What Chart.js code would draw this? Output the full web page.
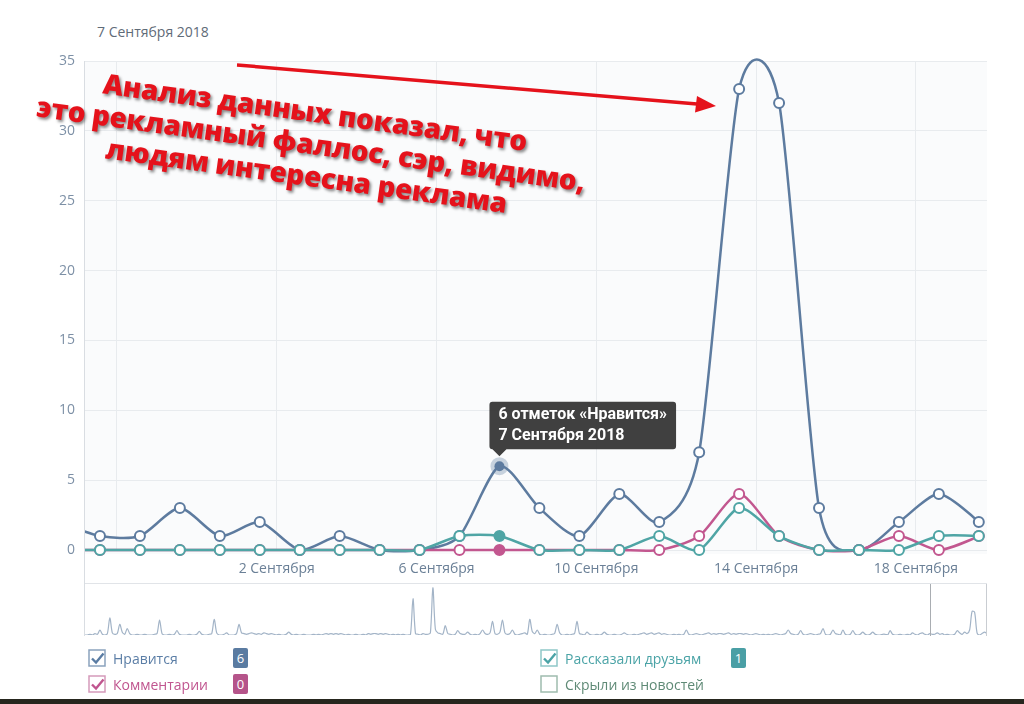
<!DOCTYPE html>
<html>
<head>
<meta charset="utf-8">
<script src="https://cdn.jsdelivr.net/npm/chart.js@4.4.1/dist/chart.umd.min.js"></script>
<style>
  body { margin: 0; width: 1024px; height: 704px; background: #fff; position: relative; overflow: hidden; font-family: "Open Sans", sans-serif; }
  #head { position: absolute; left: 97px; top: 22px; font-size: 14px; color: #5f6b78; }
  #main { position: absolute; left: 0; top: 0; }
  #yline { position: absolute; left: 84px; top: 61px; width: 1px; height: 575px; background: #d9dde2; }
  #nav { position: absolute; left: 85px; top: 583px; width: 902px; height: 53px; border-top: 1px solid #e1e4e8; }
  #navChart { position: absolute; left: 0; top: 1px; }
  #navWin { position: absolute; left: 845px; top: 0; width: 55px; height: 52px; border-left: 1px solid #a9adb2; border-right: 1px solid #c9cdd2; }
  #note { position: absolute; left: 1px; top: 95px; width: 620px; text-align: center; font-size: 28px; font-weight: 800; line-height: 32px; color: #e5121b; transform: rotate(7.8deg); text-shadow: 2px 2px 3px rgba(0,0,0,0.45); letter-spacing: -0.3px; }
  #arrow { position: absolute; left: 0; top: 0; }
  .lg { position: absolute; font-size: 14px; line-height: 19px; }
  .lg svg { position: absolute; left: 0; top: 0; }
  .lg span.t { position: absolute; left: 25px; top: 0; white-space: nowrap; }
  .badge { position: absolute; width: 15px; height: 20px; line-height: 20px; text-align: center; color: #fff; border-radius: 2px; font-size: 13px; }
  #foot { position: absolute; left: 0; top: 699px; width: 1024px; height: 5px; background: #26261e; }
</style>
</head>
<body>
<div id="head"></div>
<canvas id="main" width="1024" height="590"></canvas>
<div id="yline"></div>
<div id="nav"><canvas id="navChart" width="902" height="50"></canvas><div id="navWin"></div></div>

<svg id="arrow" width="1024" height="704">
  <line x1="237" y1="65" x2="697" y2="104" stroke="#e5121b" stroke-width="3.5" />
  <polygon points="716,106 695,112.5 697,96" fill="#e5121b" />
</svg>
<div id="note">Анализ данных показал, что<br>это рекламный фаллос, сэр, видимо,<br>людям интересна реклама</div>

<div class="lg" style="left:88px;top:649px;">
  <svg width="19" height="19"><rect x="1" y="1" width="16" height="16" fill="#fff" stroke="#8aa2bd" stroke-width="1.5"/><path d="M4 9.5 L8 13.5 L15.5 4.5" stroke="#5a7ca3" stroke-width="2.4" fill="none"/></svg>
  <span class="t" style="color:#5b7ea6">Нравится</span>
</div>
<div class="badge" style="left:233px;top:648px;background:#5a7ba1">6</div>
<div class="lg" style="left:88px;top:675px;">
  <svg width="19" height="19"><rect x="1" y="1" width="16" height="16" fill="#fff" stroke="#d59abb" stroke-width="1.5"/><path d="M4 9.5 L8 13.5 L15.5 4.5" stroke="#c0558f" stroke-width="2.4" fill="none"/></svg>
  <span class="t" style="color:#c0558f">Комментарии</span>
</div>
<div class="badge" style="left:233px;top:674px;background:#b5548a">0</div>
<div class="lg" style="left:540px;top:649px;">
  <svg width="19" height="19"><rect x="1" y="1" width="16" height="16" fill="#fff" stroke="#8ec7c8" stroke-width="1.5"/><path d="M4 9.5 L8 13.5 L15.5 4.5" stroke="#4aa3a6" stroke-width="2.4" fill="none"/></svg>
  <span class="t" style="color:#4aa3a6">Рассказали друзьям</span>
</div>
<div class="badge" style="left:731px;top:648px;background:#4a9fa5">1</div>
<div class="lg" style="left:540px;top:675px;">
  <svg width="19" height="19"><rect x="1" y="1" width="16" height="16" fill="#fff" stroke="#9fbcae" stroke-width="1.5"/></svg>
  <span class="t" style="color:#5f8a76">Скрыли из новостей</span>
</div>
<div id="foot"></div>

<script>
// данные графика
const dates = [
  '2018-08-27', '2018-08-28', '2018-08-29', '2018-08-30', '2018-08-31', '2018-09-01',
  '2018-09-02', '2018-09-03', '2018-09-04', '2018-09-05', '2018-09-06', '2018-09-07',
  '2018-09-08', '2018-09-09', '2018-09-10', '2018-09-11', '2018-09-12', '2018-09-13',
  '2018-09-14', '2018-09-15', '2018-09-16', '2018-09-17', '2018-09-18', '2018-09-19'
];
const likes    = [2, 1, 1, 3, 1, 2, 0, 1, 0, 0, 1, 6, 3, 1, 4, 2, 7, 33, 32, 3, 0, 2, 4, 2];
const comments = [0, 0, 0, 0, 0, 0, 0, 0, 0, 0, 0, 0, 0, 0, 0, 0, 1, 4, 1, 0, 0, 1, 0, 1];
const shares   = [0, 0, 0, 0, 0, 0, 0, 0, 0, 0, 1, 1, 0, 0, 0, 1, 0, 3, 1, 0, 0, 0, 1, 1];

const tickDates  = ['2018-08-29', '2018-09-02', '2018-09-06', '2018-09-10', '2018-09-14', '2018-09-18'];
const tickLabels = ['', '2 Сентября', '6 Сентября', '10 Сентября', '14 Сентября', '18 Сентября'];

const selectedDate = '2018-09-07';

// лайки за год до окна (навигатор внизу), по дням
const likesHistory = [
  0,0,1,0,2,1,7,1,0,2, 24,3,1,2,15,4,1,9,2,0,
  0,1,0,0,1,0,0,0,1,2, 21,2,0,0,1,0,1,6,1,0,
  0,0,1,0,0,1,5,1,0,0, 1,2,22,3,0,0,1,3,0,0,
  0,2,15,3,2,1,2,3,2,1, 2,1,3,2,1,2,1,0,1,0,
  0,1,4,1,0,1,0,0,1,0, 0,0,1,0,1,0,1,2,1,2,
  1,2,1,2,1,0,1,0,0,1, 0,0,1,0,2,1,2,2,1,2,
  1,2,1,0,1,0,1,0,1,0, 0,1,51,2,1,0,2,1,1,3,
  66,8,3,2,1,13,2,1,0,1, 6,2,1,1,4,1,0,1,0,2,
  7,2,1,3,19,2,1,4,21,3, 1,2,7,1,0,1,2,3,1,22,
  5,2,7,1,0,1,0,0,1,2, 15,3,0,0,1,0,1,2,19,2,
  1,0,4,1,0,0,1,0,1,4, 1,0,0,1,0,0,1,3,1,0,
  0,1,0,1,2,3,1,2,3,1, 2,3,1,2,1,0,0,1,0,1,
  0,1,7,1,0,1,2,1,0,1, 2,3,1,2,1,2,2,1,2,3,
  1,2,1,2,2,1,2,1,0,1, 2,1,0,1,0,1,0,1,2,1,
  0,1,2,7,2,1,0,1,6,1, 0,1,2,1,0,1,2,9,1,0,
  1,7,2,1,0,7,1,0,1,6, 1,0,1,4,1,0,1,4,1,0,
  0,1,1,0,6,1,0,0,1,0, 0,1,0,3,1,0,2,3,1,0
];

const BLUE = '#5d7b9f';
const PINK = '#c2578f';
const TEAL = '#4fa5a5';

const monthsGen = ['Января', 'Февраля', 'Марта', 'Апреля', 'Мая', 'Июня', 'Июля',
  'Августа', 'Сентября', 'Октября', 'Ноября', 'Декабря'];

// точки выгружены около 13:48 каждого дня
const sampleTime = 13.8 / 24;

function dayNum(s) {
  const [y, m, d] = s.split('-').map(Number);
  return Date.UTC(y, m - 1, d) / 86400000;
}

function fullDate(s) {
  const [y, m, d] = s.split('-').map(Number);
  return d + ' ' + monthsGen[m - 1] + ' ' + y;
}

function toPoints(values) {
  return values.map((v, i) => ({ x: dayNum(dates[i]) + sampleTime, y: v }));
}

document.getElementById('head').textContent = fullDate(selectedDate);

Chart.defaults.font.family = '"Open Sans", sans-serif';

const plotBg = {
  id: 'plotBg',
  beforeDraw(chart) {
    const a = chart.chartArea;
    const ctx = chart.ctx;
    ctx.save();
    ctx.fillStyle = '#fafbfc';
    ctx.fillRect(a.left, a.top, a.right - a.left, a.bottom - a.top + 4);
    ctx.restore();
  }
};

// сглаживание как у сплайна Highcharts (контрольные точки по x)
const splineSmooth = {
  id: 'splineSmooth',
  beforeDatasetDraw(chart, args) {
    const line = args.meta.dataset;
    const pts = args.meta.data;
    if (!line) return;
    line.updateControlPoints(chart.chartArea);
    const s = 3;
    for (let i = 0; i < pts.length; i++) {
      const p = pts[i], prev = pts[i - 1], next = pts[i + 1];
      if (!prev || !next) {
        p.cp1x = p.x; p.cp1y = p.y; p.cp2x = p.x; p.cp2y = p.y;
        continue;
      }
      const lx = (s * p.x + prev.x) / (s + 1);
      let ly = (s * p.y + prev.y) / (s + 1);
      const rx = (s * p.x + next.x) / (s + 1);
      let ry = (s * p.y + next.y) / (s + 1);
      const corr = ((ry - ly) * (rx - p.x)) / (rx - lx) + p.y - ry;
      ly += corr;
      ry += corr;
      p.cp1x = lx; p.cp1y = ly; p.cp2x = rx; p.cp2y = ry;
    }
  }
};

function lineSet(label, values, color, order, halo) {
  return {
    label: label,
    data: toPoints(values),
    borderColor: color,
    borderWidth: 2.5,
    tension: 0.4,
    capBezierPoints: false,
    pointRadius: 5,
    pointBorderWidth: 2,
    pointBackgroundColor: '#fff',
    pointBorderColor: color,
    pointHoverRadius: 5,
    pointHoverBackgroundColor: color,
    pointHoverBorderColor: halo || color,
    pointHoverBorderWidth: halo ? 8 : 2,
    order: order,
    clip: { left: 0, top: 8, right: 8, bottom: 8 }
  };
}

const firstDay = dayNum(dates[1]);

const chart = new Chart(document.getElementById('main'), {
  type: 'line',
  data: {
    datasets: [
      lineSet('Нравится', likes, BLUE, 2, 'rgba(93,123,159,0.32)'),
      lineSet('Комментарии', comments, PINK, 1),
      lineSet('Рассказали друзьям', shares, TEAL, 0)
    ]
  },
  options: {
    responsive: false,
    animation: false,
    events: [],
    layout: { padding: { top: 61, right: 37, left: 0, bottom: 0 } },
    interaction: { mode: 'index', intersect: false },
    plugins: {
      legend: { display: false },
      tooltip: {
        filter: item => item.datasetIndex === 0,
        backgroundColor: 'rgba(52,52,52,0.94)',
        titleColor: '#fff',
        bodyColor: '#fff',
        titleFont: { family: 'Roboto', size: 16, weight: 'bold' },
        bodyFont: { family: 'Roboto', size: 16, weight: 'bold' },
        titleMarginBottom: 1,
        padding: { left: 9, right: 9, top: 4, bottom: 4 },
        cornerRadius: 3,
        caretSize: 7,
        caretPadding: 10,
        displayColors: false,
        xAlign: 'left',
        yAlign: 'bottom',
        callbacks: {
          title: items => items[0].raw.y + ' отметок «Нравится»',
          label: item => fullDate(dates[item.dataIndex])
        }
      }
    },
    scales: {
      x: {
        type: 'linear',
        min: firstDay + 0.2,
        max: firstDay + 22.78,
        afterBuildTicks: scale => { scale.ticks = tickDates.map(d => ({ value: dayNum(d) })); },
        afterFit: scale => { scale.height = 40; },
        grid: { color: '#e8ebee', drawTicks: false },
        border: { display: false },
        ticks: {
          autoSkip: false,
          maxRotation: 0,
          padding: 11,
          color: '#6b8097',
          font: { size: 14 },
          callback: (v, i) => tickLabels[i]
        }
      },
      y: {
        min: 0,
        max: 35,
        afterFit: scale => { scale.width = 85; },
        grid: { color: '#e8ebee', drawTicks: false },
        border: { display: false },
        ticks: { stepSize: 5, padding: 10, color: '#7d90a6', font: { size: 14 } }
      }
    }
  },
  plugins: [plotBg, splineSmooth]
});

// выделенная точка с подсказкой
const selIdx = dates.indexOf(selectedDate);
chart.setActiveElements([0, 1, 2].map(d => ({ datasetIndex: d, index: selIdx })));
const selPoint = chart.getDatasetMeta(0).data[selIdx];
chart.tooltip.setActiveElements([{ datasetIndex: 0, index: selIdx }], { x: selPoint.x, y: selPoint.y });
chart.update('none');

// навигатор
const navValues = likesHistory.concat(likes);

new Chart(document.getElementById('navChart'), {
  type: 'line',
  data: {
    labels: navValues.map((v, i) => i),
    datasets: [{
      data: navValues,
      borderColor: '#a3b4c7',
      borderWidth: 1.2,
      pointRadius: 0,
      tension: 0.3,
      fill: false
    }]
  },
  options: {
    responsive: false,
    animation: false,
    events: [],
    plugins: { legend: { display: false }, tooltip: { enabled: false } },
    scales: {
      x: { display: false },
      y: { display: false, min: 0, max: 70 }
    }
  }
});
</script>
</body>
</html>
